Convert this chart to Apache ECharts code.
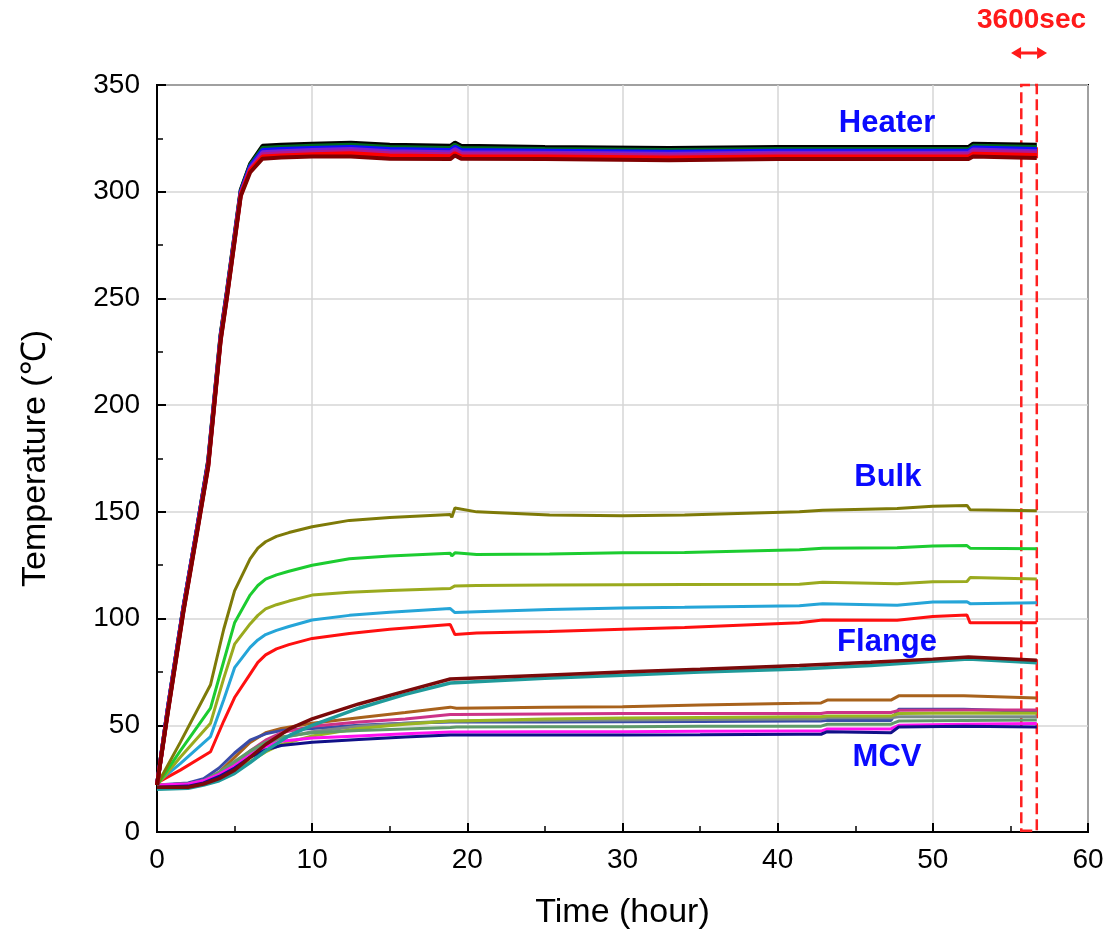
<!DOCTYPE html>
<html><head><meta charset="utf-8">
<script src="https://cdn.jsdelivr.net/npm/echarts@6/dist/echarts.min.js"></script>
<style>html,body{margin:0;padding:0;background:#fff}#main{width:1109px;height:945px}</style>
</head><body><div id="main"></div>
<script>
// ---- Data (time in hours, temperature in °C) ----
const xTicks = [0, 10, 20, 30, 40, 50, 60];
const yTicks = [0, 50, 100, 150, 200, 250, 300, 350];

// Heater group
const tHeater = [0, 0.7, 1.7, 2.6, 3.3, 4.1, 4.5, 5.4, 6, 6.8, 8, 10, 12.5, 15, 18.9, 19.2, 19.6, 25, 33, 40, 47, 52.3, 52.6, 56.7];
const heaterBlack  = [22, 58, 105, 143, 174, 233, 253, 301, 313, 321.5, 322, 322.5, 323, 322, 321.5, 323, 321.5, 321, 320.5, 321, 321, 321, 322.5, 322];
const heaterGreen  = [22, 58, 105, 143, 173.5, 232.5, 252.5, 300.5, 312.5, 320.5, 321, 321.5, 322, 321, 320.5, 322, 320.5, 320, 319.5, 320, 320, 320, 321.5, 321];
const heaterBlue   = [22, 58, 105, 143, 173, 232, 252, 300, 312, 319.5, 320, 320.5, 321, 320, 319.5, 321, 319.5, 319.2, 318.7, 319.2, 319.2, 319.2, 320.7, 320];
const heaterPurple = [22, 57, 104, 142, 172.5, 231.5, 251.5, 299.5, 311, 318.5, 319, 319.5, 320, 319, 318.5, 320, 318.5, 318.3, 317.8, 318.3, 318.3, 318.3, 319.8, 319];
const heaterMagenta= [22, 57, 104, 142, 172, 231, 251, 299, 310.5, 317.5, 318, 318.5, 319, 318, 317.6, 319, 317.6, 317.5, 317, 317.5, 317.5, 317.5, 318.8, 318.2];
const heaterRed    = [22, 56.5, 103.5, 141.5, 171.5, 230.5, 250.5, 298.5, 310, 316.5, 317, 317.5, 318, 317, 316.6, 318, 316.6, 316.5, 316, 316.5, 316.5, 316.5, 317.8, 317.2];
const heaterDkRed  = [22, 56, 103, 141, 171, 230, 250, 298, 309, 315.5, 316, 316.5, 316.5, 315.5, 315.3, 317, 315.5, 315.3, 314.8, 315.3, 315.3, 315.3, 316.5, 315.8];

// Bulk group
const tBulk = [0, 1.5, 3.45, 4.3, 5, 6, 6.5, 7, 7.7, 8.5, 10, 12.4, 15, 18.9, 19.0, 19.2, 20.6, 25.3, 30, 34, 41.4, 42.9, 47.7, 50, 52.2, 52.4, 56.7];
const bulkOlive  = [22, 42, 69, 95, 113, 128, 133, 136, 138.5, 140.3, 143, 146, 147.3, 148.8, 147.5, 151.8, 150, 148.5, 148.2, 148.5, 150, 150.8, 151.6, 152.6, 153, 151, 150.5];
const bulkGreen  = [22, 38, 58, 80, 98, 111, 115.5, 118.5, 120.5, 122.2, 125, 128, 129.3, 130.6, 129.3, 130.8, 130, 130.3, 130.8, 131, 132.3, 133, 133.2, 134, 134.2, 133, 132.7];
const bulkYelGrn = [22, 35, 51, 72, 88, 97.5, 101.5, 104.5, 106.5, 108.2, 111, 112.3, 113.2, 114.1, 114, 115.3, 115.5, 115.7, 115.9, 116, 116.1, 117, 116.3, 117.2, 117.4, 119.2, 118.5];
const bulkLtBlue = [23, 32, 44.7, 62, 77, 86.5, 90, 92.5, 94.5, 96.3, 99.3, 101.5, 103, 104.7, 104.7, 102.8, 103.2, 104.3, 105, 105.3, 106, 107, 106.2, 107.8, 107.9, 107, 107.4];
const bulkRed    = [23, 29, 37.6, 52, 63, 74, 79.5, 83, 85.8, 87.8, 90.7, 93, 95, 97.2, 97.2, 92.5, 93.2, 94, 95, 95.8, 98, 99.3, 99.2, 101, 101.7, 98, 98];

// Flange group
const tFlange = [0, 2, 3, 4, 5, 6, 7, 8.6, 10, 13, 16, 18.9, 25, 30, 35, 41.4, 46, 50, 52.3, 56.7];
const flangeDkRed = [21, 21, 22.5, 25, 29, 35, 41, 48.6, 53, 60, 66, 71.7, 73.5, 75, 76.3, 78, 79.5, 81, 82, 80.5];
const flangeTeal  = [20, 20.5, 22, 24, 27.5, 32.5, 38, 45.5, 50, 58, 64.5, 69.8, 72, 73.5, 75, 76.4, 78, 80, 81, 79.3];

// MCV group
const tMcv = [0, 2, 3, 4, 5, 6, 7, 8, 10, 13, 16, 18.9, 19.3, 25, 30, 35, 41.4, 42.8, 43.2, 47.3, 47.8, 52, 56.7];
const mcvBrown   = [22, 22.5, 24, 28, 35, 42, 46.5, 48.5, 51, 53.5, 56, 58.5, 58, 58.5, 58.7, 59.5, 60.3, 60.5, 61.8, 61.8, 63.8, 63.8, 62.8];
const mcvPink    = [22, 22.5, 24, 27, 32, 38, 43, 46.5, 49.5, 51.5, 53, 55, 55, 55.3, 55.5, 55.5, 55.5, 55.5, 56, 56, 57, 57.2, 57.2];
const mcvBlue    = [22, 23, 25, 30, 37, 43, 46, 47.5, 48.5, 50, 51, 51.5, 51.5, 51.5, 51.6, 51.8, 52, 52, 52.3, 52.3, 57.5, 57.5, 56.5];
const mcvYelGrn  = [22, 22, 23, 25, 28.5, 33, 37.5, 41, 45, 48.5, 50.5, 52, 52, 53, 53.4, 53.7, 54, 54, 54.3, 54.3, 55.5, 55.8, 55.6];
const mcvGray    = [22, 22.5, 24, 27.5, 32, 37, 41, 44, 47, 49.5, 51, 52, 52, 52.3, 52.5, 52.7, 53, 53, 53.5, 53.5, 54, 54, 54];
const mcvGrnGray = [22, 22.5, 24, 28, 33, 38, 42, 44.5, 46.5, 47.5, 48.3, 49, 49.2, 49.3, 49.3, 49.5, 49.6, 49.6, 50.5, 50.5, 52, 52.3, 52.5];
const mcvMagenta = [22, 22.5, 24, 27, 31, 36, 40, 42.5, 44, 45, 46, 46.8, 46.8, 47, 47, 47.2, 47.3, 47.3, 48.3, 48.3, 50, 50.5, 50.8];
const mcvNavy    = [21, 21.5, 23, 26, 30, 35, 38.5, 40.5, 42, 43.3, 44.5, 45.5, 45.5, 45.5, 45.5, 45.6, 45.8, 45.8, 47, 46.5, 49.2, 49.5, 49.2];

// Annotations
const groupLabels = ['Heater', 'Bulk', 'Flange', 'MCV'];
const groupLabelX = [47.05, 47.1, 47.05, 47.05];
const groupLabelY = [332, 166.3, 88.6, 35.1];
const windowStart = 55.7, windowEnd = 56.7;   // last 3600 s window
const windowText = '3600sec';

// ---- Build series ----
function pairs(t, v) { return t.map((x, i) => [x, v[i]]); }
function line(name, t, v, color, width) {
  return { name, type: 'line', data: pairs(t, v), showSymbol: false, symbol: 'none',
    lineStyle: { color, width }, itemStyle: { color }, z: 3, silent: true };
}
const series = [
  line('MCV-1', tMcv, mcvBrown, '#a8621c', 3),
  line('MCV-2', tMcv, mcvBlue, '#3a4ca8', 3),
  line('MCV-3', tMcv, mcvPink, '#cc3388', 3),
  line('MCV-4', tMcv, mcvGray, '#7a8a8a', 3),
  line('MCV-5', tMcv, mcvYelGrn, '#9ab522', 3),
  line('MCV-6', tMcv, mcvGrnGray, '#5f9a6a', 3),
  line('MCV-7', tMcv, mcvMagenta, '#ff10f0', 3),
  line('MCV-8', tMcv, mcvNavy, '#101088', 3),
  line('Flange-2', tFlange, flangeTeal, '#1f9a9a', 3.5),
  line('Flange-1', tFlange, flangeDkRed, '#7a0a0a', 3.5),
  line('Bulk-5', tBulk, bulkRed, '#ff1010', 3),
  line('Bulk-4', tBulk, bulkLtBlue, '#25a5d8', 3),
  line('Bulk-3', tBulk, bulkYelGrn, '#9aaa1e', 3),
  line('Bulk-2', tBulk, bulkGreen, '#1ccc30', 3),
  line('Bulk-1', tBulk, bulkOlive, '#7e7a08', 3),
  line('Heater-1', tHeater, heaterBlack, '#000000', 4),
  line('Heater-2', tHeater, heaterGreen, '#006a20', 4),
  line('Heater-3', tHeater, heaterBlue, '#1010ff', 4),
  line('Heater-4', tHeater, heaterPurple, '#7a20d0', 4),
  line('Heater-5', tHeater, heaterMagenta, '#b01890', 4),
  line('Heater-6', tHeater, heaterRed, '#ff0000', 4),
  line('Heater-7', tHeater, heaterDkRed, '#800000', 4),
];
series.push({
  type: 'scatter', symbolSize: 0, silent: true, z: 6,
  itemStyle: { opacity: 1, color: '#0a0aff' },
  data: groupLabels.map((s, i) => [groupLabelX[i], groupLabelY[i], s]),
  label: { show: true, position: 'inside', formatter: p => p.value[2], opacity: 1,
    fontSize: 31, fontWeight: 'bold', color: '#0a0aff', fontFamily: 'Liberation Sans' }
});
series.push({
  type: 'line', data: [], silent: true,
  markArea: { silent: true,
    itemStyle: { color: 'rgba(0,0,0,0)', borderColor: '#ff2020', borderWidth: 2.5, borderType: [11, 5] },
    data: [[{ xAxis: windowStart, yAxis: yTicks[0] + 0.6 }, { xAxis: windowEnd, yAxis: yTicks[yTicks.length - 1] }]] }
});

const font = 'Liberation Sans, Arial, sans-serif';
const axisCommon = {
  axisLine: { show: true, onZero: false, lineStyle: { color: '#000', width: 2 } },
  axisTick: { show: true, inside: true, length: 9, lineStyle: { color: '#000', width: 2 } },
  minorTick: { show: true, splitNumber: 2, length: 6, lineStyle: { color: '#000', width: 1.5 } },
  splitLine: { show: true, lineStyle: { color: '#d6d6d6', width: 1.5 } },
  nameTextStyle: { fontSize: 34, color: '#000', fontFamily: font },
};
const chart = echarts.init(document.getElementById('main'));
chart.setOption({
  animation: false,
  backgroundColor: '#fff',
  grid: { left: 157, right: 21, top: 85, bottom: 113, show: true, borderColor: '#000', borderWidth: 2, backgroundColor: 'rgba(0,0,0,0)' },
  xAxis: Object.assign({}, axisCommon, {
    type: 'value', min: xTicks[0], max: xTicks[xTicks.length - 1], interval: xTicks[1] - xTicks[0],
    name: 'Time (hour)', nameLocation: 'middle', nameGap: 64,
    axisLabel: { fontSize: 28, color: '#000', fontFamily: font, margin: 14 },
  }),
  yAxis: Object.assign({}, axisCommon, {
    type: 'value', min: yTicks[0], max: yTicks[yTicks.length - 1], interval: yTicks[1] - yTicks[0],
    name: 'Temperature (℃)', nameLocation: 'middle', nameGap: 104, nameRotate: 90,
    axisLabel: { fontSize: 28, color: '#000', fontFamily: font, margin: 17 },
  }),
  series
});

// Annotation above the plot: "3600sec" with a double-headed arrow over the window
const a = chart.convertToPixel({ gridIndex: 0 }, [windowStart, yTicks[yTicks.length - 1]]);
const b = chart.convertToPixel({ gridIndex: 0 }, [windowEnd, yTicks[yTicks.length - 1]]);
const cx = (a[0] + b[0]) / 2;
const ay = a[1] - 32;
const half = 18, head = 10, hh = 6;
chart.setOption({
  graphic: [
    { type: 'text', left: cx - 52, top: 6, style: { text: windowText, fontSize: 28, fontWeight: 'bold', fill: '#ff1a1a', fontFamily: font } },
    { type: 'line', shape: { x1: cx - half + head, y1: ay, x2: cx + half - head, y2: ay }, style: { stroke: '#ff1a1a', lineWidth: 3 } },
    { type: 'polygon', shape: { points: [[cx - half, ay], [cx - half + head, ay - hh], [cx - half + head, ay + hh]] }, style: { fill: '#ff1a1a' } },
    { type: 'polygon', shape: { points: [[cx + half, ay], [cx + half - head, ay - hh], [cx + half - head, ay + hh]] }, style: { fill: '#ff1a1a' } },
  ]
});
</script>
</body></html>
